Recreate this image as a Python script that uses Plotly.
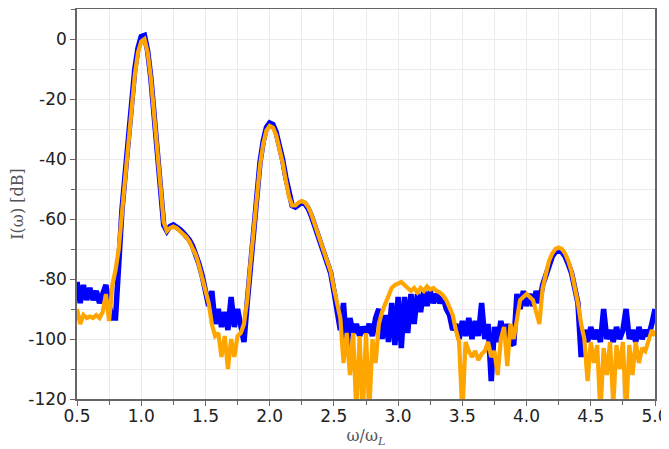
import numpy as np
import plotly.graph_objects as go

# frequency grid omega/omega_L, step 0.025 from 0.5 to 5.0
omega = np.round(np.linspace(0.5, 5.0, 181), 3)

blue_db = [
    -81, -88, -82, -87,        # 0.50
    -83, -87, -84, -88,        # 0.60
    -85, -82, -89, -93,        # 0.70
    -93, -72, -57, -45,        # 0.80
    -32, -20, -10, -3,         # 0.90
    0.8, 1.2, -4, -13,         # 1.00
    -25, -37, -50, -62,        # 1.10
    -64, -62.5, -62, -62.5,    # 1.20
    -63.5, -64.5, -65.5, -67,  # 1.30
    -69, -71.5, -75, -79,      # 1.40
    -84, -89, -84, -95,        # 1.50
    -90, -96, -91, -97,        # 1.60
    -86, -96, -90, -97,        # 1.70
    -101, -88, -75, -63,       # 1.80
    -51, -41, -34, -29.5,      # 1.90
    -28, -28.5, -31, -35,      # 2.00
    -40, -46, -52, -55.5,      # 2.10
    -56, -55, -54.5, -55,      # 2.20
    -56.5, -59, -62, -65,      # 2.30
    -68, -71, -74, -78,        # 2.40
    -84, -90, -97, -88,        # 2.50
    -104, -93, -98, -95,       # 2.60
    -99, -96, -98, -95,        # 2.70
    -99, -93, -90, -100,       # 2.80
    -92, -101, -88, -102,      # 2.90
    -86, -103, -86, -98,       # 3.00
    -85, -95, -85, -91,        # 3.10
    -84, -89, -84, -88,        # 3.20
    -85, -88, -86, -90,        # 3.30
    -92, -97, -95, -100,       # 3.40
    -94, -99, -93, -100,       # 3.50
    -94, -99, -88, -100,       # 3.60
    -95, -114, -96, -101,      # 3.70
    -94, -100, -95, -101,      # 3.80
    -102, -85, -90, -84,       # 3.90
    -89, -85, -89, -84,        # 4.00
    -88, -82, -79, -75,        # 4.10
    -72.5, -71, -70.5, -71,    # 4.20
    -72.5, -75, -78, -83,      # 4.30
    -88, -106, -97, -101,      # 4.40
    -96, -100, -97, -101,      # 4.50
    -90, -100, -97, -101,      # 4.60
    -96, -100, -97, -90,       # 4.70
    -100, -97, -101, -96,      # 4.80
    -100, -97, -99, -95,       # 4.90
    -90,                       # 5.00
]

orange_db = [
    -90, -95, -92, -93,        # 0.50
    -92.5, -93, -92, -93,      # 0.60
    -91, -85, -94, -82,        # 0.70
    -77, -70, -58, -46,        # 0.80
    -34, -22, -12, -4.5,       # 0.90
    -0.8, 0, -4.5, -13,        # 1.00
    -25, -37, -50, -61,        # 1.10
    -64, -63, -62.5, -63,      # 1.20
    -64, -65, -66, -67.5,      # 1.30
    -69.5, -72, -75.5, -79.5,  # 1.40
    -84, -88, -95, -99,        # 1.50
    -98, -106, -99, -110,      # 1.60
    -100, -106, -99, -98,      # 1.70
    -95, -87, -75, -64,        # 1.80
    -52, -42, -35, -30.5,      # 1.90
    -29, -29.5, -32, -36,      # 2.00
    -41, -47, -52.5, -55.5,    # 2.10
    -55.5, -54.5, -54, -54.5,  # 2.20
    -56, -58.5, -61.5, -64.5,  # 2.30
    -67.5, -70.5, -73.5, -77.5,  # 2.40
    -83, -88, -93, -108,       # 2.50
    -98, -112, -98, -125,      # 2.60
    -99, -125, -98, -125,      # 2.70
    -100, -108, -95, -91,      # 2.80
    -88, -85, -83, -82,        # 2.90
    -81.5, -81, -82, -83,      # 3.00
    -84, -83, -84.5, -83,      # 3.10
    -84, -82.5, -83.5, -83,    # 3.20
    -84, -84.5, -85.5, -87,    # 3.30
    -90, -92, -97, -101,       # 3.40
    -125, -101, -104, -106,    # 3.50
    -104, -107, -105, -104,    # 3.60
    -101, -106, -104, -112,    # 3.70
    -100, -96, -109, -95,      # 3.80
    -100, -93, -87, -86,       # 3.90
    -85, -86, -87, -91,        # 4.00
    -95, -83, -78, -74,        # 4.10
    -71.5, -70, -69.5, -70,    # 4.20
    -71.5, -74, -77.5, -82,    # 4.30
    -88, -95, -100, -114,      # 4.40
    -101, -108, -102, -125,    # 4.50
    -103, -112, -101, -122,    # 4.60
    -102, -110, -101, -125,    # 4.70
    -102, -112, -101, -108,    # 4.80
    -103, -104, -101, -97,     # 4.90
    -99,                       # 5.00
]

x_ticks = [0.5, 1.0, 1.5, 2.0, 2.5, 3.0, 3.5, 4.0, 4.5, 5.0]
x_tick_labels = ["0.5", "1.0", "1.5", "2.0", "2.5", "3.0", "3.5", "4.0", "4.5", "5.0"]
y_ticks = [0, -20, -40, -60, -80, -100, -120]
y_tick_labels = ["0", "-20", "-40", "-60", "-80", "-100", "-120"]

fig = go.Figure()
fig.add_trace(go.Scatter(x=omega, y=blue_db, mode="lines",
                         line=dict(color="#0000ff", width=5.5), showlegend=False))
fig.add_trace(go.Scatter(x=omega, y=orange_db, mode="lines",
                         line=dict(color="#ffa500", width=4.2), showlegend=False))

axis_common = dict(
    showline=True, linecolor="#666666", linewidth=1.5, mirror=True,
    ticks="outside", ticklen=5, tickwidth=1, tickcolor="#666666",
    showgrid=True, gridcolor="#ebebeb", gridwidth=1,
    zeroline=False, automargin=False,
    tickfont=dict(family="DejaVu Sans", size=17, color="#222222"),
)

fig.update_xaxes(
    range=[0.5, 5.0], tickvals=x_ticks, ticktext=x_tick_labels,
    minor=dict(dtick=0.25, tick0=0.5, ticks="outside", ticklen=4,
               tickcolor="#666666", showgrid=True, gridcolor="#ebebeb"),
    ticklabelstandoff=-4,
    title=dict(text="ω/ω<sub><i>L</i></sub>",
               font=dict(family="DejaVu Serif", size=16, color="#555555"),
               standoff=4),
    **axis_common,
)
fig.update_yaxes(
    range=[-120, 10], tickvals=y_ticks, ticktext=y_tick_labels,
    minor=dict(dtick=10, tick0=0, ticks="outside", ticklen=4,
               tickcolor="#666666", showgrid=True, gridcolor="#ebebeb"),
    title=dict(text="I(ω) [dB]",
               font=dict(family="DejaVu Serif", size=16, color="#555555"),
               standoff=2),
    **axis_common,
)

# page body has an 8px default margin, so the figure is shrunk and shifted
fig.update_layout(
    width=661, height=441,
    margin=dict(l=69, r=14, t=1, b=50, autoexpand=False),
    paper_bgcolor="white", plot_bgcolor="white",
)

fig.write_html("out.html")
